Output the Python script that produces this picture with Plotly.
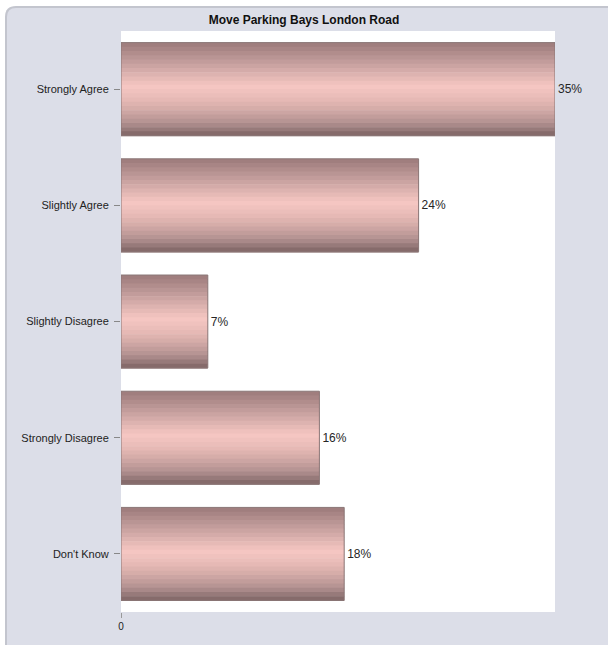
import plotly.graph_objects as go

categories = ["Strongly Agree", "Slightly Agree", "Slightly Disagree", "Strongly Disagree", "Don't Know"]
values = [35, 24, 7, 16, 18]
labels = ["35%", "24%", "7%", "16%", "18%"]
title = "Move Parking Bays London Road"

W, H = 608, 645
L, R, T, B = 121, 555, 31, 612

def px(x):
    return (x - L) / (R - L)

def py(y):
    return (B - y) / (B - T)

def hex2rgb(h):
    h = h.lstrip("#")
    return [int(h[i:i + 2], 16) for i in (0, 2, 4)]

stops = [(0.0, "#9c7a7a"), (0.18, "#bd9897"), (0.33, "#dbb1ae"), (0.47, "#f6c7c3"),
         (0.6, "#e8bbb7"), (0.73, "#d1a9a6"), (0.86, "#b39191"), (1.0, "#7d6464")]

def color_at(t):
    for (t0, c0), (t1, c1) in zip(stops[:-1], stops[1:]):
        if t0 <= t <= t1:
            f = (t - t0) / (t1 - t0) if t1 > t0 else 0
            a, b = hex2rgb(c0), hex2rgb(c1)
            return "rgb(%d,%d,%d)" % tuple(round(a[k] + (b[k] - a[k]) * f) for k in range(3))
    return stops[-1][1]

bar_w = 0.8
n = 22
sw = bar_w / n

fig = go.Figure()
for i in range(n):
    fig.add_trace(go.Bar(
        y=categories, x=values, orientation="h",
        width=sw * 1.15, offset=-bar_w / 2 + i * sw,
        marker=dict(color=color_at((i + 0.5) / n), line=dict(width=0)),
        showlegend=False, hoverinfo="skip",
    ))

fig.add_trace(go.Bar(
    y=categories, x=values, orientation="h",
    width=bar_w,
    marker=dict(color="rgba(0,0,0,0)", line=dict(color="#8a7676", width=1)),
    text=labels, textposition="outside", constraintext="none",
    textfont=dict(family="Liberation Sans, Arial, sans-serif", size=12, color="#262626"),
    cliponaxis=False, showlegend=False,
))

shapes = [
    # outer panel shadow
    dict(type="path", xref="paper", yref="paper", layer="below",
         path="M %f %f L %f %f Q %f %f %f %f L %f %f L %f %f Z" % (
             px(5), py(646), px(5), py(17), px(5), py(6), px(16), py(6),
             px(620), py(6), px(620), py(646)),
         fillcolor="#c3c5ce", line=dict(width=0)),
    dict(type="path", xref="paper", yref="paper", layer="below",
         path="M %f %f L %f %f Q %f %f %f %f L %f %f L %f %f Z" % (
             px(7), py(646), px(7), py(17), px(7), py(8), px(16), py(8),
             px(620), py(8), px(620), py(646)),
         fillcolor="#dcdee8", line=dict(width=0)),
    dict(type="rect", xref="paper", yref="paper", layer="below",
         x0=px(L), x1=px(R), y0=py(B), y1=py(T),
         fillcolor="#ffffff", line=dict(width=0)),
]

fig.update_layout(
    width=W, height=H,
    margin=dict(l=L, r=W - R, t=T, b=H - B, pad=0),
    paper_bgcolor="#ffffff",
    plot_bgcolor="rgba(0,0,0,0)",
    barmode="overlay",
    bargap=0.2,
    title=dict(text="<b>" + title + "</b>", x=(208 + 400) / 2 / W, xanchor="center",
               y=1 - 20 / H, yanchor="middle",
               font=dict(family="Liberation Sans Narrow, Arial Narrow, Liberation Sans, Arial, sans-serif",
                         size=12, color="#111111")),
    shapes=shapes,
    font=dict(family="Liberation Sans, Arial, sans-serif", size=11, color="#222222"),
    xaxis=dict(range=[0, 35], tickvals=[0], ticktext=["0"], showgrid=False, zeroline=False,
               showline=False, ticks="outside", ticklen=5, tickcolor="#999999",
               tickfont=dict(size=10, color="#222222"), fixedrange=True),
    yaxis=dict(categoryorder="array", categoryarray=categories, autorange="reversed",
               showgrid=False, zeroline=False, showline=False,
               ticks="outside", ticklen=6, tickcolor="#888888",
               tickfont=dict(size=11, color="#222222"), ticklabelstandoff=3),
)

fig.write_html("out.html", config={"displayModeBar": False},
               post_script="document.body.style.margin='0';document.body.style.overflow='hidden';")
